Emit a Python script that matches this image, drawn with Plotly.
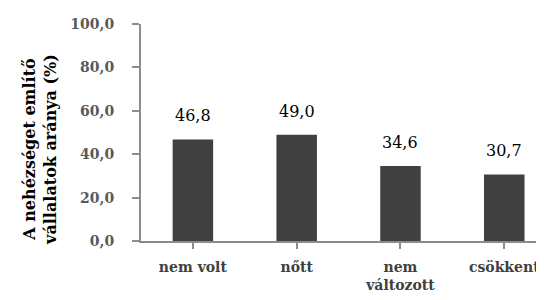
import plotly.graph_objects as go

categories = ["nem volt", "nőtt", "nem<br>változott", "csökkent"]
values = [46.8, 49.0, 34.6, 30.7]
y_ticks = [0, 20, 40, 60, 80, 100]
y_title = "A nehézséget említő<br>vállalatok aránya (%)"

FONT = "DejaVu Serif"
BAR_COLOR = "#404040"

fig = go.Figure()
fig.add_trace(go.Bar(
    x=list(range(len(categories))),
    y=values,
    marker=dict(color=BAR_COLOR, line=dict(width=0)),
    width=0.39,
    hoverinfo="skip",
))

for i, v in enumerate(values):
    fig.add_annotation(
        x=i, y=v, text=f"{v:.1f}".replace(".", ","),
        showarrow=False, yanchor="bottom", yshift=12,
        font=dict(family=FONT, size=16, color="#000000"),
    )

fig.add_annotation(
    xref="paper", yref="paper", x=-0.2457, y=0.42,
    xanchor="center", yanchor="middle", textangle=-90,
    text=f"<b>{y_title}</b>", showarrow=False,
    font=dict(family=FONT, size=16, color="#000000"),
)

fig.update_layout(
    width=544, height=300,
    margin=dict(l=133, r=0, t=16, b=67, pad=0, autoexpand=False),
    paper_bgcolor="white", plot_bgcolor="white",
    separators=", ",
    showlegend=False,
    font=dict(family=FONT, size=15),
)
fig.update_xaxes(
    range=[-0.5, 3.46],
    tickmode="array",
    tickvals=list(range(len(categories))),
    ticktext=[f"<b>{c}</b>" for c in categories],
    tickfont=dict(family=FONT, size=14, color="#404040"),
    showline=True, linecolor="#8c8c8c", linewidth=2,
    ticks="outside", tickson="boundaries", ticklen=6, tickcolor="#8c8c8c", tickwidth=2,
    showgrid=False, zeroline=False, automargin=False,
    ticklabelstandoff=6,
)
fig.update_yaxes(
    range=[0, 100],
    tickmode="array",
    tickvals=y_ticks,
    ticktext=[f"<b>{t:.1f}</b>".replace(".", ",") for t in y_ticks],
    tickfont=dict(family=FONT, size=14, color="#595959"),
    showline=True, linecolor="#8c8c8c", linewidth=2,
    ticks="outside", ticklen=7, tickcolor="#8c8c8c", tickwidth=2,
    showgrid=False, zeroline=False, automargin=False,
    ticklabelstandoff=15,
)

fig.write_html("out.html")
